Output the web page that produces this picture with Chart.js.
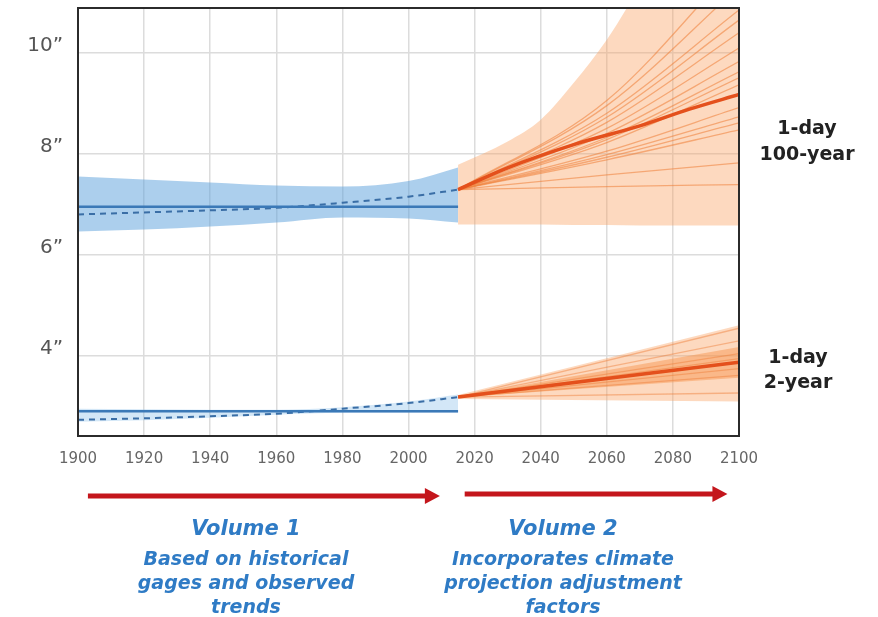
<!DOCTYPE html>
<html>
<head>
<meta charset="utf-8">
<script src="https://cdn.jsdelivr.net/npm/chart.js@4.4.1/dist/chart.umd.min.js"></script>
<style>
  body { margin: 0; background: #fff; }
  #wrap { position: relative; width: 878px; height: 617px; }
  .side { position: absolute; font-family: "DejaVu Sans", sans-serif; font-weight: bold; color: #222;
          text-align: center; font-size: 19px; transform: translateX(-50%); white-space: nowrap; }
  .note { position: absolute; top: 513px; font-family: "DejaVu Sans", sans-serif; font-weight: bold; font-style: italic;
          color: #2f7bc5; text-align: center; transform: translateX(-50%); white-space: nowrap;
          font-size: 19px; line-height: 24px; }
  .note .title { font-size: 21px; line-height: 30px; margin-bottom: 3px; }
</style>
</head>
<body>
<div id="wrap">
  <canvas id="lluvia" width="878" height="617"></canvas>
  <div class="side" style="left:807px; top:114px; line-height:26px;">1-day<br>100-year</div>
  <div class="side" style="left:798px; top:344px; line-height:25px;">1-day<br>2-year</div>
  <div class="note" style="left:246px;"><div class="title">Volume 1</div>Based on historical<br>gages and observed<br>trends</div>
  <div class="note" style="left:563px;"><div class="title">Volume 2</div>Incorporates climate<br>projection adjustment<br>factors</div>
</div>
<script>
const xTicks = [1900, 1920, 1940, 1960, 1980, 2000, 2020, 2040, 2060, 2080, 2100];
const yTicks = [4, 6, 8, 10];

// historical (Volume 1)
const histYears = [1900, 1920, 1940, 1960, 1980, 2000, 2015];
const hist100Fit = [6.95, 6.95, 6.95, 6.95, 6.95, 6.95, 6.95];
const hist100Trend = [6.80, 6.84, 6.88, 6.93, 7.03, 7.15, 7.29];
const hist100Upper = [7.55, 7.49, 7.43, 7.37, 7.35, 7.46, 7.73];
const hist100Lower = [6.46, 6.50, 6.56, 6.64, 6.74, 6.72, 6.64];

const hist2Fit = [2.91, 2.91, 2.91, 2.91, 2.91, 2.91, 2.91];
const hist2Trend = [2.74, 2.77, 2.81, 2.86, 2.96, 3.07, 3.19];
const hist2Upper = [2.96, 2.95, 2.94, 2.94, 2.99, 3.10, 3.24];
const hist2Lower = [2.70, 2.73, 2.78, 2.84, 2.88, 2.88, 2.88];

// projections (Volume 2)
const bandYears = [2015, 2030, 2040, 2050, 2060, 2070, 2085, 2100];
const proj100Upper = [7.78, 8.24, 8.67, 9.40, 10.25, 11.3, 12.8, 14.5];
const proj100Lower = [6.60, 6.60, 6.60, 6.59, 6.59, 6.58, 6.58, 6.58];

const medianYears = [2015, 2030, 2050, 2070, 2085, 2100];
const proj100Median = [7.29, 7.72, 8.18, 8.55, 8.88, 9.17];

const modelYears = [2015, 2060, 2100];
const models100 = [
  [7.29, 9.05, 11.8], [7.29, 8.95, 11.3], [7.29, 8.80, 10.84], [7.29, 8.72, 10.64],
  [7.29, 8.62, 10.39], [7.29, 8.50, 10.09], [7.29, 8.40, 9.82], [7.29, 8.32, 9.62],
  [7.29, 8.28, 9.50], [7.29, 8.22, 9.36], [7.29, 8.05, 8.91], [7.29, 7.98, 8.73],
  [7.29, 7.93, 8.61], [7.29, 7.88, 8.47], [7.29, 7.58, 7.82], [7.29, 7.35, 7.39]
];

const proj2Years = [2015, 2100];
const proj2Median = [3.19, 3.88];
const proj2Upper = [3.23, 4.61];
const proj2Lower = [3.15, 3.10];
const proj2InnerUpper = [3.20, 4.18];
const proj2InnerLower = [3.18, 3.57];
const models2 = [[3.19, 4.55], [3.19, 4.30], [3.19, 4.05], [3.19, 3.95], [3.19, 3.75], [3.19, 3.62], [3.19, 3.27]];

function pts(xs, ys) {
  return xs.map((x, i) => ({ x: x, y: ys[i] }));
}

const datasets = [];
function band(xs, up, lo, color) {
  const i = datasets.length;
  datasets.push({ data: pts(xs, up), borderWidth: 0, backgroundColor: color, fill: i + 1, order: 10,
                  cubicInterpolationMode: 'monotone' });
  datasets.push({ data: pts(xs, lo), borderWidth: 0, fill: false, order: 10, cubicInterpolationMode: 'monotone' });
}
function line(xs, ys, color, width, dash, order) {
  datasets.push({ data: pts(xs, ys), borderColor: color, borderWidth: width, borderDash: dash || [],
                  fill: false, cubicInterpolationMode: 'monotone', order: order });
}

band(histYears, hist100Upper, hist100Lower, 'rgba(90, 160, 220, 0.5)');
band(histYears, hist2Upper, hist2Lower, 'rgba(110, 175, 230, 0.3)');
band(bandYears, proj100Upper, proj100Lower, 'rgba(250, 160, 95, 0.4)');
band(proj2Years, proj2Upper, proj2Lower, 'rgba(250, 160, 95, 0.4)');
band(proj2Years, proj2InnerUpper, proj2InnerLower, 'rgba(245, 135, 55, 0.45)');

models100.forEach(m => line(modelYears, m, 'rgba(238, 125, 55, 0.55)', 1.3, null, 5));
models2.forEach(m => line(proj2Years, m, 'rgba(238, 125, 55, 0.45)', 1.3, null, 5));

line(histYears, hist100Fit, '#3b79b7', 2.5, null, 2);
line(histYears, hist100Trend, '#3a6ea6', 2, [6, 5], 2);
line(histYears, hist2Fit, '#3b79b7', 2.5, null, 2);
line(histYears, hist2Trend, '#3a6ea6', 2, [6, 5], 2);
line(medianYears, proj100Median, '#e4501c', 3.5, null, 1);
line(proj2Years, proj2Median, '#e4501c', 3.5, null, 1);

const framePlugin = {
  id: 'frame',
  afterDatasetsDraw(chart) {
    const a = chart.chartArea;
    const ctx = chart.ctx;
    ctx.save();
    ctx.strokeStyle = '#2b2b2b';
    ctx.lineWidth = 2;
    ctx.strokeRect(a.left, a.top, a.right - a.left, a.bottom - a.top);
    ctx.restore();
  }
};

const arrowPlugin = {
  id: 'arrows',
  afterDraw(chart) {
    const x = chart.scales.x;
    const ctx = chart.ctx;
    function arrow(y1, y2, py) {
      const x1 = x.getPixelForValue(y1);
      const x2 = x.getPixelForValue(y2);
      ctx.save();
      ctx.strokeStyle = '#c4161c';
      ctx.fillStyle = '#c4161c';
      ctx.lineWidth = 5;
      ctx.beginPath();
      ctx.moveTo(x1, py);
      ctx.lineTo(x2 - 12, py);
      ctx.stroke();
      ctx.beginPath();
      ctx.moveTo(x2, py);
      ctx.lineTo(x2 - 15, py - 8);
      ctx.lineTo(x2 - 15, py + 8);
      ctx.closePath();
      ctx.fill();
      ctx.restore();
    }
    arrow(1903, 2009.5, 496);
    arrow(2017, 2096.5, 494);
  }
};

new Chart(document.getElementById('lluvia'), {
  type: 'line',
  data: { datasets: datasets },
  plugins: [framePlugin, arrowPlugin],
  options: {
    responsive: false,
    animation: false,
    layout: { padding: { top: 8, right: 139, left: 0, bottom: 0 } },
    elements: { point: { radius: 0 } },
    plugins: { legend: { display: false }, tooltip: { enabled: false } },
    scales: {
      x: {
        type: 'linear',
        min: 1900,
        max: 2100,
        afterBuildTicks: s => { s.ticks = xTicks.map(v => ({ value: v })); },
        afterFit: s => { s.height = 181; s.paddingLeft = 0; s.paddingRight = 0; },
        grid: { color: '#dcdcdc', lineWidth: 1.5, drawTicks: false },
        border: { display: false },
        ticks: {
          padding: 14,
          color: '#666',
          font: { family: 'DejaVu Sans', size: 15 },
          maxRotation: 0,
          callback: v => String(v)
        }
      },
      y: {
        min: 2.42,
        max: 10.88,
        afterBuildTicks: s => { s.ticks = yTicks.map(v => ({ value: v })); },
        afterFit: s => { s.width = 78; s.paddingTop = 0; s.paddingBottom = 0; },
        grid: { color: '#dcdcdc', lineWidth: 1.5, drawTicks: false },
        border: { display: false },
        ticks: {
          padding: 15,
          labelOffset: -7,
          color: '#555',
          font: { family: 'DejaVu Sans', size: 20 },
          callback: v => v + '\u201D'
        }
      }
    }
  }
});
</script>
</body>
</html>
